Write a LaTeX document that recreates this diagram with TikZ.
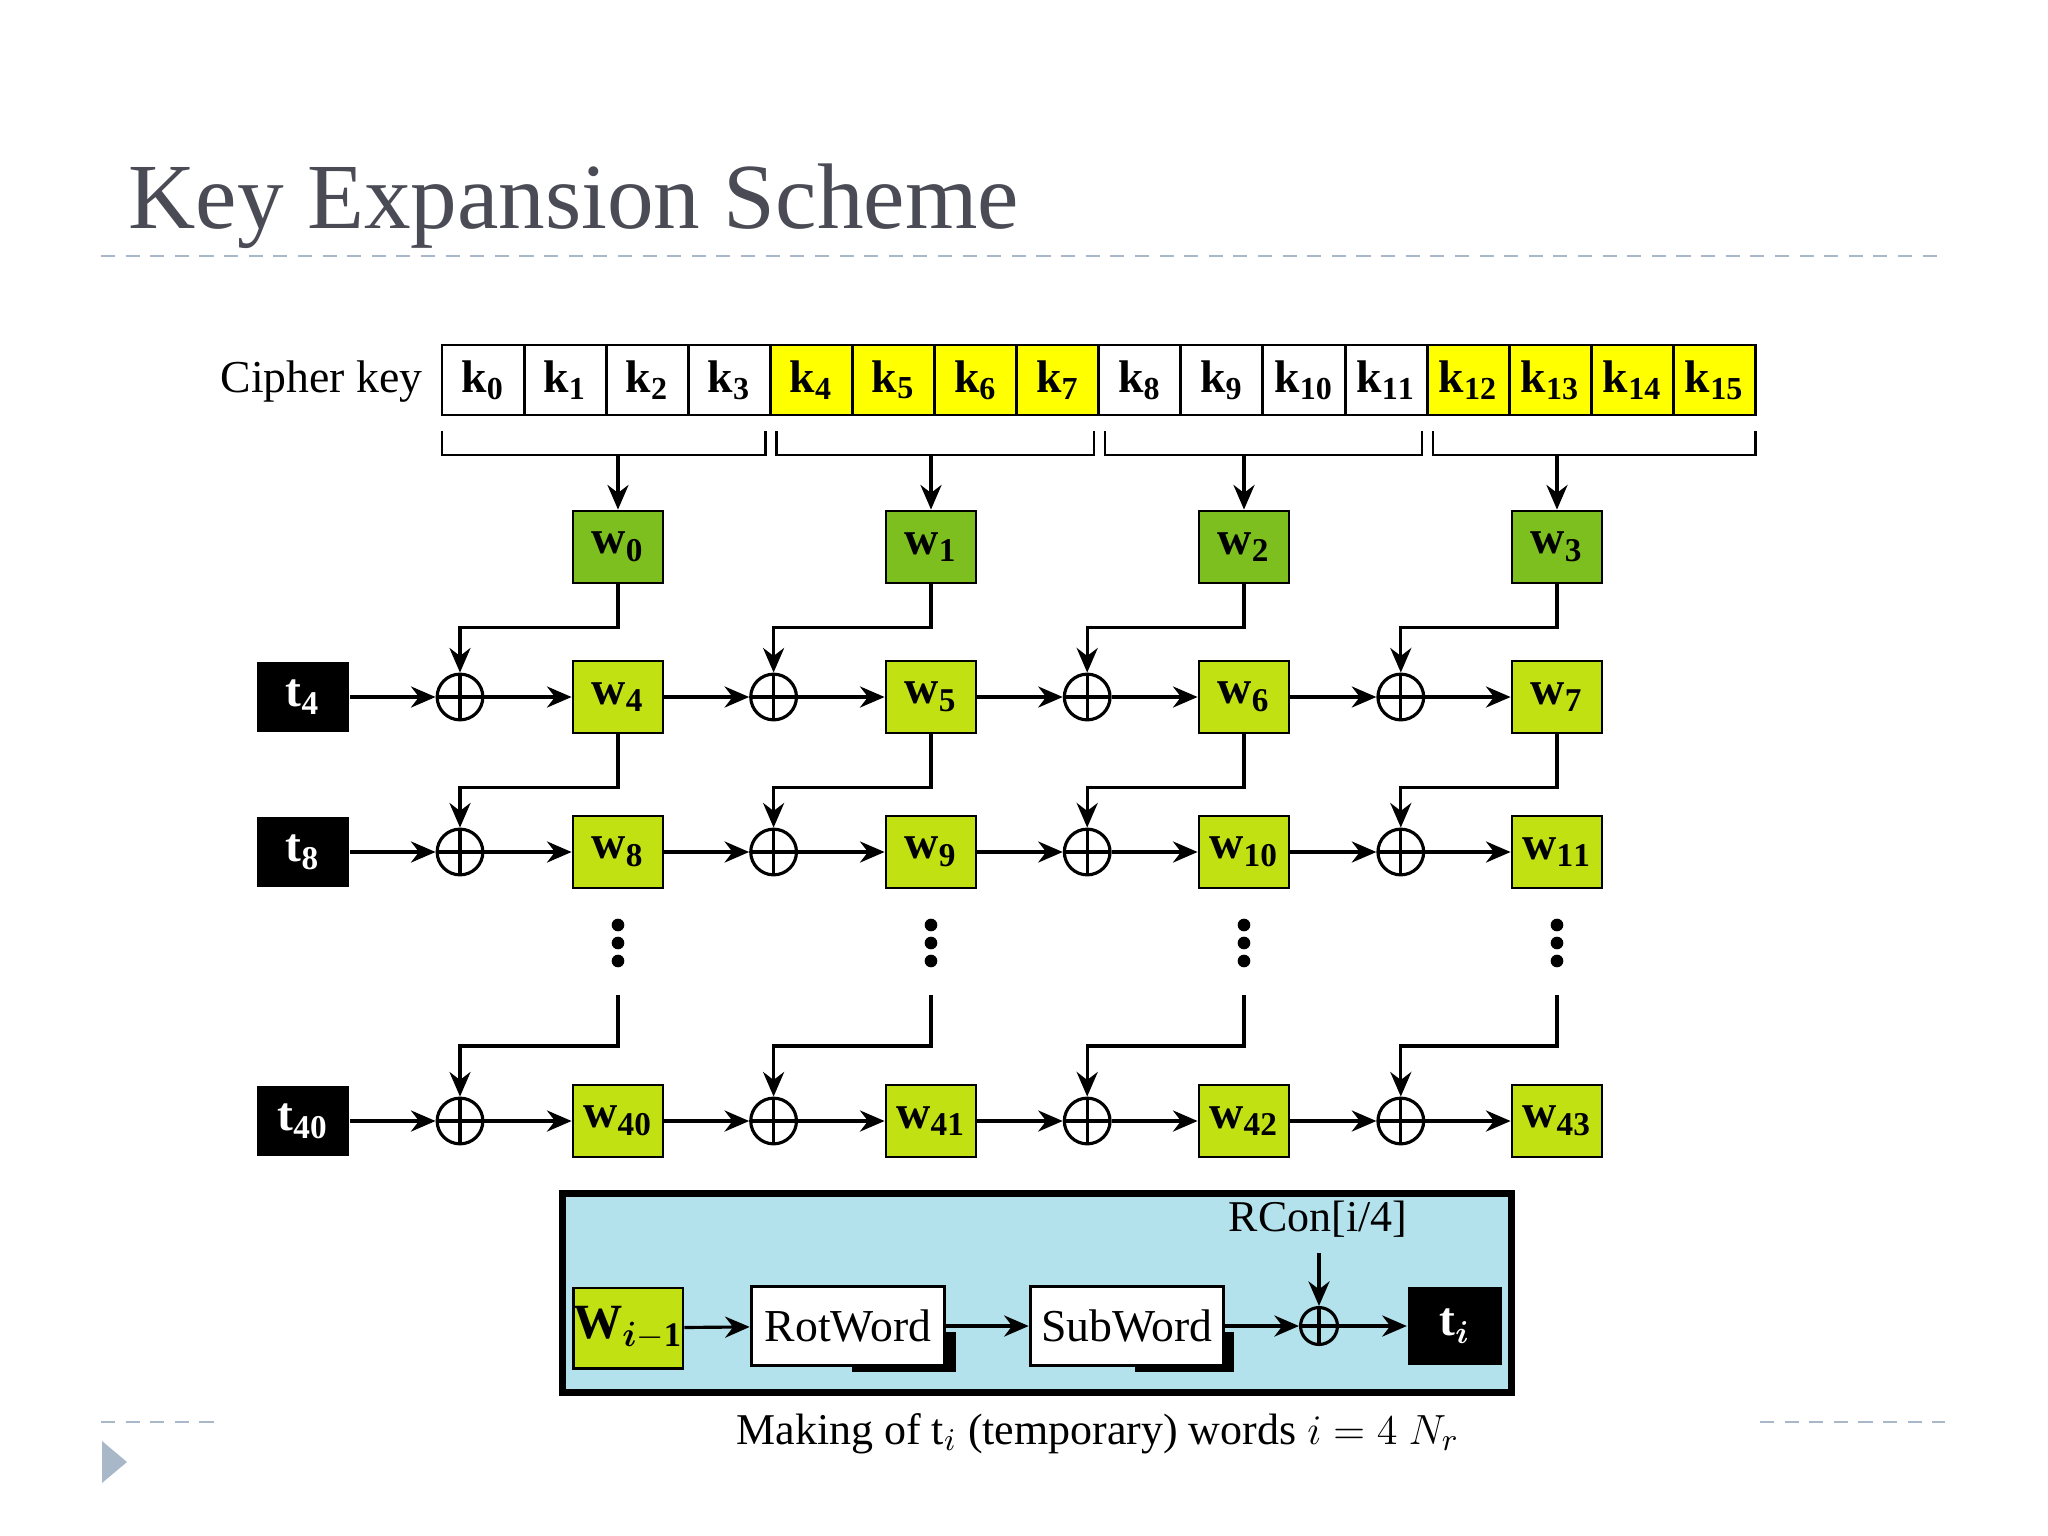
\documentclass[tikz,border=0pt]{standalone}
\usepackage{amsmath}
\usepackage{fontspec}
\setmainfont{Liberation Serif}
\usetikzlibrary{arrows.meta,shapes.geometric}
\definecolor{keyyel}{HTML}{FFFF00}
\definecolor{wdark}{HTML}{7CBF1E}
\definecolor{wlime}{HTML}{C1E112}
\definecolor{boxblue}{HTML}{B3E2EC}
\definecolor{titlegray}{HTML}{4A4B55}
\definecolor{dashgray}{HTML}{A8B8C8}
\begin{document}
\begin{tikzpicture}[x=0.01cm,y=-0.01cm,
  line width=0.9pt,
  arr/.style={-{Stealth[length=7pt,width=6pt]}},
  kcell/.style={draw,line width=0.8pt,minimum width=23.3pt,minimum height=19.9pt,inner sep=0pt,font=\fontsize{13}{13}\selectfont\bfseries},
  wbox/.style={draw,line width=0.8pt,minimum width=25.6pt,minimum height=20.5pt,inner sep=0pt,font=\fontsize{13.5}{13.5}\selectfont\bfseries},
  tbox/.style={fill=black,text=white,minimum width=25.9pt,minimum height=20pt,inner sep=0pt,font=\fontsize{13.5}{13.5}\selectfont\bfseries},
  xor/.style={circle,draw,line width=0.9pt,minimum size=13pt,inner sep=0pt,
     path picture={\draw (path picture bounding box.north)--(path picture bounding box.south) (path picture bounding box.west)--(path picture bounding box.east);}},
  sxor/.style={xor,minimum size=10.5pt},
  shadowbox/.style={draw,fill=white,line width=0.9pt,minimum width=55pt,minimum height=22.5pt,inner sep=0pt,font=\fontsize{13}{13}\selectfont},
  dashl/.style={dashgray,dash pattern=on 4pt off 3pt,line width=0.6pt}]
\useasboundingbox (0,0) rectangle (2048,1536);
% title
\node[anchor=base west,inner sep=0pt,text=titlegray,font=\fontsize{26.5}{26.5}\selectfont] (title) at (127,228) {Key Expansion Scheme};
\draw[dashl] (101,256) -- (1945,256);
\draw[dashl] (101,1422) -- (222,1422);
\draw[dashl] (1760,1422) -- (1945,1422);
\fill[dashgray] (102,1441) -- (127,1462) -- (102,1483) -- cycle;
% cipher key
\node[anchor=base east,inner sep=0pt,font=\fontsize{13}{13}\selectfont] (ck) at (424,392) {Cipher key};
\foreach \i in {0,...,15}{
  \pgfmathtruncatemacro{\g}{mod(floor(\i/4),2)}
  \ifnum\g=1 \def\fc{keyyel}\else\def\fc{white}\fi
  \node[kcell,fill=\fc] (k\i) at ({442+82.1*\i+41},380) {k$_{\mathbf{\i}}$};
}
% brackets and w0..w3
\foreach \g in {0,...,3}{
  \pgfmathsetmacro{\xa}{442+328.4*\g+(\g>0?6:0)}
  \pgfmathsetmacro{\xb}{442+328.4*(\g+1)-(\g<3?5:0)}
  \pgfmathsetmacro{\xc}{618+313*\g}
  \draw[line width=0.7pt] (\xa,431) -- (\xa,455) -- (\xb,455) -- (\xb,431);
  \coordinate (b\g) at (\xc,455);
  \node[wbox,fill=wdark] (w\g) at (\xc,547) {w$_{\mathbf{\g}}$};
  \draw[arr] (b\g) -- (w\g);
}
% rows
\foreach \r/\y/\ty/\t in {1/697/697/4,2/852/852/8,3/1121/1121/40}{
  \node[tbox] (t\t) at (303,\ty) {t$_{\mathbf{\t}}$};
  \foreach \c in {0,...,3}{
    \pgfmathtruncatemacro{\n}{\t+\c}
    \node[xor] (x\r\c) at ({460+313.6*\c},\y) {};
    \node[wbox,fill=wlime] (w\n) at ({618+313*\c},\y) {w$_{\mathbf{\n}}$};
    \draw[arr] (x\r\c) -- (w\n);
  }
  \draw[arr] (t\t) -- (x\r0);
  \foreach \c in {1,2,3}{
    \pgfmathtruncatemacro{\n}{\t+\c-1}
    \draw[arr] (w\n) -- (x\r\c);
  }
}
% vertical feeds
\foreach \c in {0,...,3}{
  \pgfmathtruncatemacro{\a}{4+\c}
  \draw[arr] (w\c.south) -- ++(0,43) -| (x1\c.north);
  \draw[arr] (w\a.south) -- ++(0,53) -| (x2\c.north);
  \coordinate (d\c) at ({618+313*\c},995);
  \draw[arr] (d\c) -- ++(0,51) -| (x3\c.north);
  \foreach \yy in {925,943,961} \fill ({618+313*\c},\yy) circle (1.8pt);
}
% blue box
\node[draw,fill=boxblue,line width=2pt,minimum width=270pt,minimum height=56.8pt,inner sep=0pt] (blue) at (1037,1293) {};
\node[wbox,fill=wlime,minimum width=27.5pt,minimum height=22.8pt,font=\fontsize{14}{14}\selectfont\bfseries] (wi) at (628,1328) {W$_{\boldsymbol{i}\mathbf{-1}}$};
\fill (852,1332) rectangle (956,1372);
\node[shadowbox] (rot) at (848,1326) {RotWord};
\fill (1135,1332) rectangle (1234,1372);
\node[shadowbox] (sub) at (1127,1326) {SubWord};
\node[sxor] (bx) at (1319,1326) {};
\node[tbox,minimum width=26.5pt,minimum height=22pt] (ti) at (1455,1326) {t$_{\boldsymbol{i}}$};
\node[anchor=base,inner sep=0pt,font=\fontsize{12.5}{12.5}\selectfont] (rc) at (1318,1231) {RCon[i/4]};
\coordinate (rca) at (1319,1253);
\draw[arr] (wi) -- (rot);
\draw[arr] (rot) -- (sub);
\draw[arr] (sub) -- (bx);
\draw[arr] (bx) -- (ti);
\draw[arr] (rca) -- (bx);
\node[anchor=base west,inner sep=0pt,font=\fontsize{12.5}{12.5}\selectfont] (cap) at (735,1444) {Making of t$_i$ (temporary) words $i = 4\ N_r$};
\end{tikzpicture}
\end{document}
